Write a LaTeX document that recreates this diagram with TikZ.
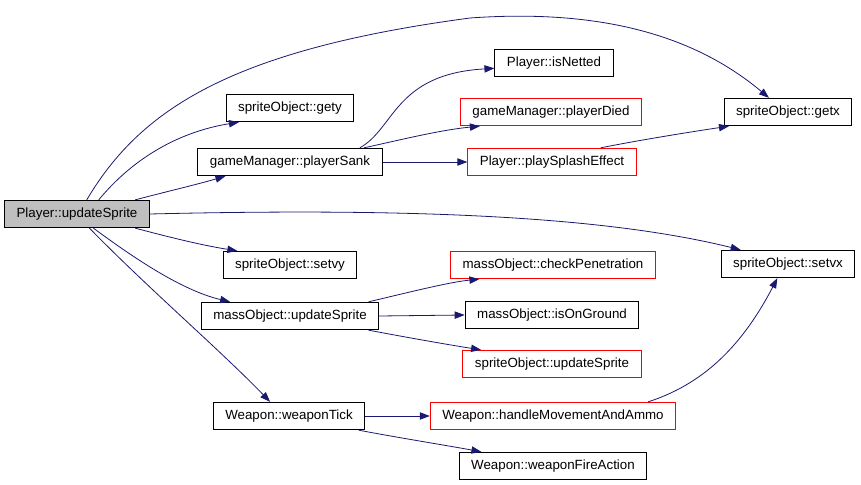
\documentclass[tikz,border=0pt]{standalone}
\usepackage{fontspec}
\setmainfont{Liberation Sans}
\usepackage{xcolor}
\usepackage{tikz}
\usetikzlibrary{arrows.meta}
\definecolor{edge}{HTML}{191970}
\definecolor{grayfill}{HTML}{BFBFBF}
\definecolor{redline}{HTML}{FF0000}
\tikzset{fn/.style={draw=black,line width=.75pt,inner xsep=9pt,inner ysep=0pt,minimum height=20.5pt,font=\fontsize{10}{12}\selectfont},fnred/.style={fn,draw=redline},call/.style={-{Triangle[length=7.5pt,width=5.5pt]},draw=edge,fill=none,line width=.6pt}}

\begin{document}
\begin{tikzpicture}[x=.75pt,y=-.75pt]
 \useasboundingbox (0,0) rectangle (861,485);
 \node[fn,fill=grayfill] (pu) at (77,214) {Player::updateSprite};
 \node[fn] (gety) at (290,108) {spriteObject::gety};
 \node[fn] (sank) at (290,162) {gameManager::playerSank};
 \node[fn] (setvy) at (290,265) {spriteObject::setvy};
 \node[fn] (mupd) at (290,316) {massObject::updateSprite};
 \node[fn] (tick) at (289,416) {Weapon::weaponTick};
 \node[fn] (netted) at (554,63) {Player::isNetted};
 \node[fnred] (died) at (551,112) {gameManager::playerDied};
 \node[fnred] (splash) at (552,162) {Player::playSplashEffect};
 \node[fnred] (pen) at (553,265) {massObject::checkPenetration};
 \node[fn] (ground) at (552,315) {massObject::isOnGround};
 \node[fnred] (supd) at (552,364) {spriteObject::updateSprite};
 \node[fnred] (ammo) at (553,416) {Weapon::handleMovementAndAmmo};
 \node[fn] (fire) at (553,466) {Weapon::weaponFireAction};
 \node[fn] (getx) at (788,112) {spriteObject::getx};
 \node[fn] (setvx) at (788,264) {spriteObject::setvx};
 \draw[call] ([xshift=62pt]pu.north west) .. controls (140,110) and (230,50) .. (470,18) .. controls (610,8) and (700,40) .. ([xshift=34pt]getx.north west);
 \draw[call] ([xshift=71pt]pu.north west) .. controls (140,150) and (190,130) .. ([xshift=10pt]gety.south west);
 \draw[call] ([xshift=-11pt]pu.north east) .. controls (165,192) and (195,185) .. ([xshift=21pt]sank.south west);
 \draw[call] (pu.east) .. controls (400,208) and (600,215) .. ([xshift=15pt]setvx.north west);
 \draw[call] ([xshift=-11pt]pu.south east) .. controls (165,236) and (200,245) .. ([xshift=11pt]setvy.north west);
 \draw[call] ([xshift=67pt]pu.south west) .. controls (130,255) and (180,290) .. ([xshift=22pt]mupd.north west);
 \draw[call] ([xshift=64pt]pu.south west) .. controls (150,290) and (220,350) .. ([xshift=43pt]tick.north west);
 \draw[call] ([xshift=-17pt]sank.north east) .. controls (395,128) and (395,74) .. ([yshift=-4pt]netted.west);
 \draw[call] ([xshift=-14pt]sank.north east) .. controls (400,140) and (440,130) .. ([xshift=15pt]died.south west);
 \draw[call] (sank.east) -- (splash.west);
 \draw[call] ([xshift=-27pt]splash.north east) .. controls (640,140) and (690,132) .. ([xshift=4pt]getx.south west);
 \draw[call] ([xshift=-8pt]mupd.north east) .. controls (410,292) and (450,282) .. ([xshift=22pt]pen.south west);
 \draw[call] (mupd.east) -- (ground.west);
 \draw[call] ([xshift=-8pt]mupd.south east) .. controls (410,338) and (450,345) .. ([xshift=14pt]supd.north west);
 \draw[call] (tick.east) -- (ammo.west);
 \draw[call] ([xshift=-5pt]tick.south east) .. controls (400,438) and (450,446) .. ([xshift=17pt]fire.north west);
 \draw[call] ([xshift=-21pt]ammo.north east) .. controls (700,385) and (740,350) .. ([xshift=-8pt]setvx.south);
\end{tikzpicture}
\end{document}
